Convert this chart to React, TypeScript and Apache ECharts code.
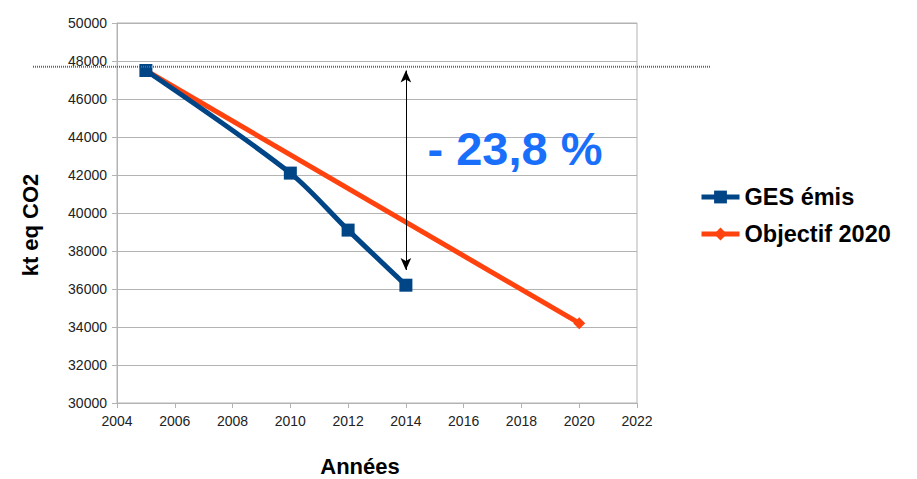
import React, { useEffect, useRef } from "react";
import * as echarts from "echarts";

const gesYears = [2005, 2010, 2012, 2014];
const gesValues = [47500, 42100, 39100, 36200];
const objYears = [2005, 2020];
const objValues = [47500, 34200];
const referenceLevel = 47700;
const arrowYear = 2014;
const arrowTop = 47500;
const arrowBottom = 37000;
const reductionLabel = "- 23,8 %";

export default function App() {
  const ref = useRef<HTMLDivElement>(null);
  useEffect(() => {
    if (!ref.current) return;
    const chart = echarts.init(ref.current, null, { renderer: "svg" });
    const font = "Liberation Sans, Arial, sans-serif";
    chart.setOption({
      animation: false,
      textStyle: { fontFamily: font },
      grid: {
        left: 117,
        right: 280,
        top: 23,
        bottom: 76,
        show: true,
        borderColor: "#b3b3b3",
        borderWidth: 1,
        containLabel: false,
        outerBoundsMode: "none",
      },
      legend: {
        orient: "vertical",
        left: 694,
        top: 180,
        itemWidth: 38,
        itemHeight: 16,
        itemGap: 13,
        data: ["GES émis", "Objectif 2020"],
        lineStyle: { width: 5 },
        textStyle: { fontSize: 23.5, fontWeight: "bold", color: "#000", fontFamily: font },
      },
      xAxis: {
        type: "value",
        min: 2004,
        max: 2022,
        interval: 2,
        name: "Années",
        nameLocation: "middle",
        nameGap: 52,
        nameTextStyle: { fontSize: 22, fontWeight: "bold", color: "#000", padding: [0, 34, 0, 0] },
        axisLine: { lineStyle: { color: "#b3b3b3" } },
        axisTick: { show: true, length: 5, lineStyle: { color: "#b3b3b3" } },
        axisLabel: { fontSize: 14, color: "#222", margin: 11, formatter: (v: number) => String(v) },
        splitLine: { show: false },
      },
      yAxis: {
        type: "value",
        min: 30000,
        max: 50000,
        interval: 2000,
        name: "kt eq CO2",
        nameLocation: "middle",
        nameGap: 76,
        nameTextStyle: { fontSize: 22, fontWeight: "bold", color: "#000", padding: [0, 24, 0, 0] },
        axisLine: { show: true, lineStyle: { color: "#b3b3b3" } },
        axisTick: { show: true, length: 5, lineStyle: { color: "#b3b3b3" } },
        axisLabel: { fontSize: 14, color: "#222", margin: 10, formatter: (v: number) => String(v) },
        splitLine: { show: true, lineStyle: { color: "#b3b3b3" } },
      },
      series: [
        {
          name: "Objectif 2020",
          type: "line",
          z: 2,
          data: objYears.map((y, i) => [y, objValues[i]]),
          lineStyle: { color: "#ff420e", width: 5 },
          itemStyle: { color: "#ff420e" },
          symbol: "diamond",
          symbolSize: 12,
          showSymbol: true,
        },
        {
          name: "GES émis",
          type: "line",
          z: 3,
          smooth: 0.3,
          data: gesYears.map((y, i) => [y, gesValues[i]]),
          lineStyle: { color: "#004586", width: 5 },
          itemStyle: { color: "#004586" },
          symbol: "rect",
          symbolSize: 13,
          markLine: {
            silent: true,
            symbol: ["arrow", "arrow"],
            symbolSize: [8, 12],
            label: { show: false },
            lineStyle: { color: "#000", width: 1, type: "solid" },
            data: [[{ coord: [arrowYear, arrowTop] }, { coord: [arrowYear, arrowBottom] }]],
          },
        },
      ],
    });
    const p = chart.convertToPixel({ gridIndex: 0 }, [2004, referenceLevel]) as number[];
    chart.setOption({
      graphic: [
        {
          type: "line",
          shape: { x1: 33, y1: p[1], x2: 710, y2: p[1] },
          style: { stroke: "#666", lineWidth: 2, lineDash: [1, 1] },
          z: 10,
        },
        {
          type: "text",
          x: 515,
          y: 148,
          style: {
            text: reductionLabel,
            font: "bold 47px Liberation Sans, Arial, sans-serif",
            fill: "#1a6ffa",
            textAlign: "center",
            textVerticalAlign: "middle",
          },
          z: 10,
        },
      ],
    });
    return () => chart.dispose();
  }, []);
  return <div ref={ref} style={{ width: 917, height: 479, position: "absolute", left: 0, top: 0 }} />;
}
